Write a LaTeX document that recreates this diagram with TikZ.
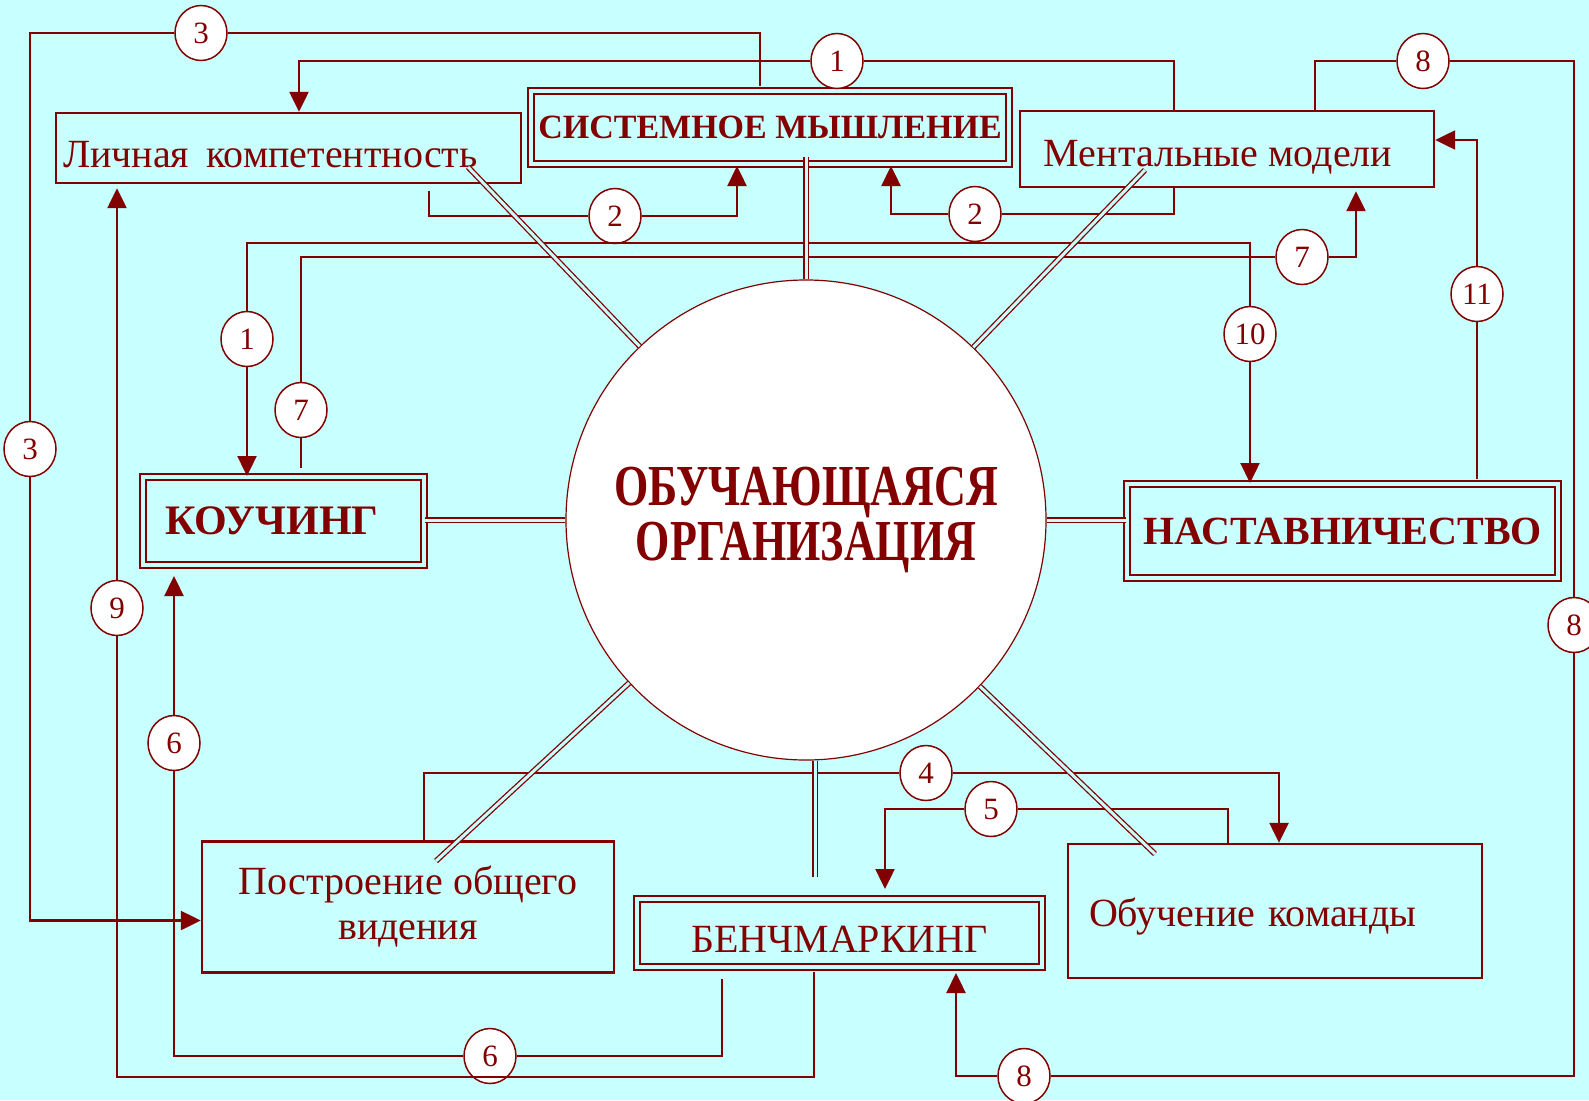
\documentclass[tikz,border=0pt]{standalone}
\usepackage{fontspec}
\usepackage{graphicx}
\setmainfont{Liberation Serif}
\usetikzlibrary{arrows.meta,shapes.geometric}

\definecolor{bgcyan}{RGB}{200,255,255}
\definecolor{darkred}{RGB}{130,0,0}

\tikzset{
	box/.style={rectangle,draw=darkred,line width=2.4pt,text=darkred,inner sep=0pt,
		font=\fontsize{40}{45}\selectfont},
	dbox/.style={box,line width=2pt,double=bgcyan,double distance=3.6pt,
		font=\bfseries\fontsize{40}{45}\selectfont},
	num/.style={ellipse,draw=darkred,line width=1.5pt,fill=white,text=darkred,
		minimum width=52pt,minimum height=55pt,inner sep=0pt,font=\fontsize{31}{31}\selectfont},
	link/.style={draw=darkred,line width=2.4pt},
	spoke/.style={draw=darkred,line width=1.3pt,double=bgcyan,double distance=3pt}
}

\begin{document}
\begin{tikzpicture}[x=1pt,y=-1pt,>={Triangle[length=20pt,width=19pt]}]
		\useasboundingbox (0,0) rectangle (1589,1100);
		\fill[bgcyan] (0,0) rectangle (1589,1100);

		\node[draw=darkred,line width=1.2pt,fill=white,circle,minimum size=480pt,inner sep=0pt,
			text=darkred,align=center,font=\bfseries\fontsize{58}{55}\selectfont] (org) at (806,520)
			{\scalebox{0.76}[1]{ОБУЧАЮЩАЯСЯ}\\\scalebox{0.76}[1]{ОРГАНИЗАЦИЯ}};

		\begin{scope}[every node/.style={box}]
			\node[text width=451pt,inner xsep=7pt,minimum height=70pt,text height=39pt,text depth=0pt,align=left] (lk) at (288.5,148) {Личная\hspace*{4pt} компетентность};
			\node[minimum width=414pt,minimum height=76pt,text height=34pt,text depth=0pt] (mm) at (1227,149) {Ментальные модели\hspace*{18pt}};
			\node[minimum width=412pt,minimum height=131pt,align=center] (po) at (408,907) {Построение общего\\видения};
			\node[text width=372pt,inner xsep=21pt,minimum height=134pt,text height=34pt,text depth=4pt,align=left] (ok) at (1275,911) {Обучение команды};
		\end{scope}
		\begin{scope}[every node/.style={dbox}]
			\node[minimum width=478pt,minimum height=73pt,font=\bfseries\fontsize{34}{40}\selectfont] (sm) at (770,127.5) {СИСТЕМНОЕ МЫШЛЕНИЕ};
			\node[text width=237pt,inner xsep=22pt,minimum height=88pt,align=left,font=\bfseries\fontsize{42}{45}\selectfont] (ko) at (283.5,521) {КОУЧИНГ};
			\node[minimum width=431pt,minimum height=94pt] (na) at (1342.5,531) {НАСТАВНИЧЕСТВО};
			\node[minimum width=405pt,minimum height=68pt,text height=38pt,text depth=0pt,font=\fontsize{40}{45}\selectfont] (be) at (839.5,933) {БЕНЧМАРКИНГ};
		\end{scope}

		\begin{scope}[every node/.style={num}]
			\node (n3a) at (201,33) {3};
			\node (n3b) at (30,449) {3};
			\node (n1a) at (837,61) {1};
			\node (n2a) at (615,216) {2};
			\node (n2b) at (975,214) {2};
			\node (n1b) at (247,339) {1};
			\node (n7a) at (301,410) {7};
			\node (n7b) at (1302,257) {7};
			\node (n10) at (1250,334) {10};
			\node (n11) at (1477,294) {11};
			\node (n8a) at (1423,61) {8};
			\node (n8b) at (1574,625) {8};
			\node (n8c) at (1024,1076) {8};
			\node (n9) at (117,608) {9};
			\node (n6a) at (490,1056) {6};
			\node (n6b) at (174,743) {6};
			\node (n4) at (926,773) {4};
			\node (n5) at (991,809) {5};
		\end{scope}

		\begin{scope}[every path/.style={link}]
			\draw[->] ([xshift=-10pt,yshift=4pt]sm.north) |- (n3a) -| (n3b) |- ([yshift=-13.5pt]po.west);
			\draw[->] ([xshift=-53pt]mm.north) |- (n1a) -| ([xshift=10.5pt]lk.north);
			\draw[->] ([xshift=140.5pt,yshift=-7pt]lk.south) |- (n2a) -| ([xshift=-33pt,yshift=-1pt]sm.south);
			\draw[->] ([xshift=-53pt]mm.south) |- (n2b) -| ([xshift=121pt,yshift=-1pt]sm.south);
			\draw[->] (n1b) -- ([xshift=-36.5pt]ko.north);
			\draw (n1b) -- ++(0,-96) -| (n10);
			\draw[->] (n10) -- ([xshift=-92.5pt]na.north);
			\draw[->] ([xshift=17.5pt,yshift=8pt]ko.north) -- (n7a) |- (n7b) -| ([xshift=129pt,yshift=-3pt]mm.south);
			\draw[->] ([xshift=134.5pt,yshift=4pt]na.north) -- (n11) |- ([yshift=9pt]mm.east);
			\draw[->] ([xshift=88pt]mm.north) |- (n8a) -| (n8b) |- (n8c) -| ([xshift=116.5pt,yshift=-5pt]be.south);
			\draw ([xshift=-25.5pt,yshift=-4pt]be.south) -- ++(0,105) -| (n9);
			\draw[->] (n9) -- ([xshift=-171.5pt,yshift=-4pt]lk.south);
			\draw[->] ([xshift=-117.5pt,yshift=-11pt]be.south) |- (n6a) -| (n6b) -- ([xshift=-109.5pt,yshift=-10pt]ko.south);
			\draw[->] ([xshift=16pt]po.north) |- (n4) -| ([xshift=4pt]ok.north);
			\draw[->] ([xshift=-47pt]ok.north) |- (n5) -| ([xshift=45.5pt,yshift=9pt]be.north);
		\end{scope}

		\coordinate (lk-s) at (468,167);
		\coordinate (sm-s) at (806,157);
		\coordinate (mm-s) at (1145,170);
		\coordinate (po-s) at (436,861);
		\coordinate (be-s) at (815,877);
		\coordinate (ok-s) at (1155,854);
		\begin{scope}[every path/.style={spoke}]
			\draw (lk-s) -- (org);
			\draw (sm-s) -- (org);
			\draw (mm-s) -- (org);
			\draw (ko.east |- org) -- (org);
			\draw (na.west |- org) -- (org);
			\draw (po-s) -- (org);
			\draw (be-s) -- (be-s |- org.south);
			\draw (ok-s) -- (org);
		\end{scope}
	\end{tikzpicture}
\end{document}
